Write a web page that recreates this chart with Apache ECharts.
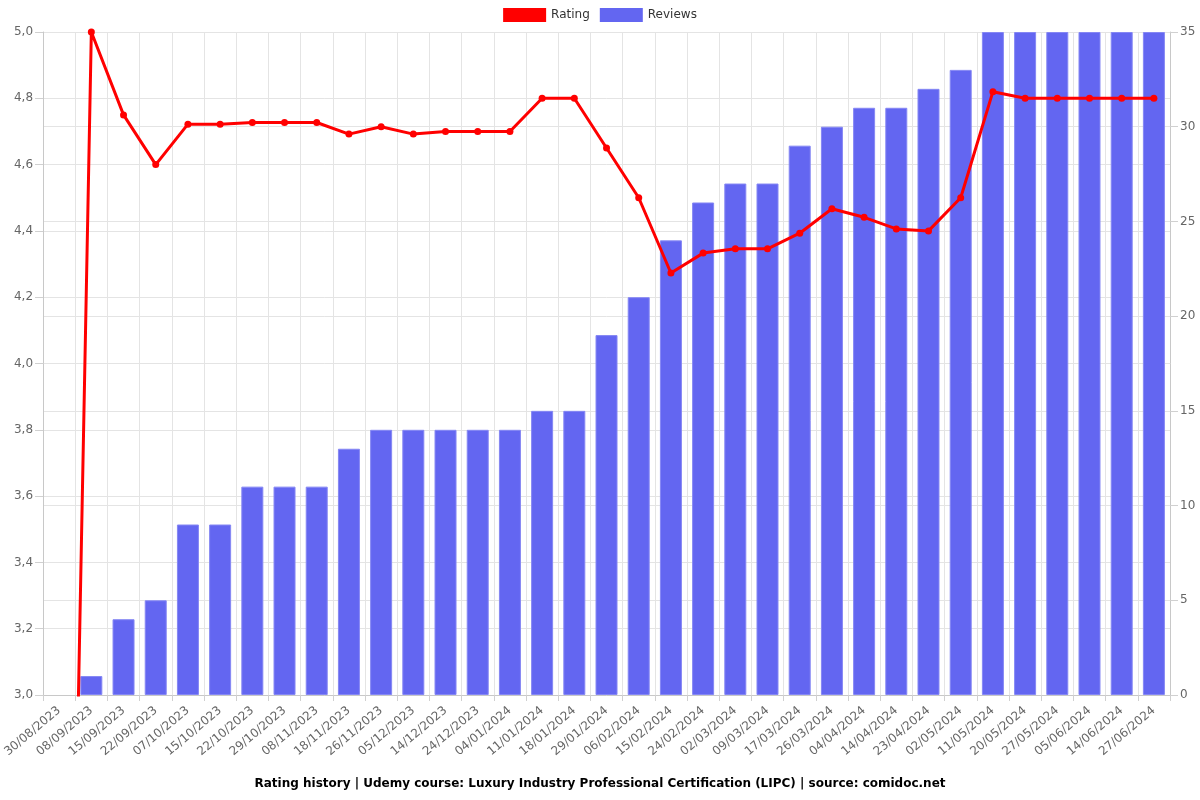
<!DOCTYPE html>
<html><head><meta charset="utf-8">
<script src="https://cdn.jsdelivr.net/npm/echarts@6/dist/echarts.min.js"></script>
<style>html,body{margin:0;padding:0;background:#fff}#c{width:1200px;height:800px}</style>
</head><body><div id="c"></div>
<script>
const categories = ['30/08/2023','08/09/2023','15/09/2023','22/09/2023','07/10/2023','15/10/2023','22/10/2023','29/10/2023','08/11/2023','18/11/2023','26/11/2023','05/12/2023','14/12/2023','24/12/2023','04/01/2024','11/01/2024','18/01/2024','29/01/2024','06/02/2024','15/02/2024','24/02/2024','02/03/2024','09/03/2024','17/03/2024','26/03/2024','04/04/2024','14/04/2024','23/04/2024','02/05/2024','11/05/2024','20/05/2024','27/05/2024','05/06/2024','14/06/2024','27/06/2024'];
const rating = [0, 5.0, 4.75, 4.6, 4.722, 4.722, 4.727, 4.727, 4.727, 4.692, 4.714, 4.692, 4.7, 4.7, 4.7, 4.8, 4.8, 4.65, 4.5, 4.273, 4.333, 4.346, 4.346, 4.393, 4.467, 4.441, 4.406, 4.4, 4.5, 4.82, 4.8, 4.8, 4.8, 4.8, 4.8];
const reviews = [0, 1, 4, 5, 9, 9, 11, 11, 11, 13, 14, 14, 14, 14, 14, 15, 15, 19, 21, 24, 26, 27, 27, 29, 30, 31, 31, 32, 33, 35, 35, 35, 35, 35, 35];
const titleText = 'Rating history | Udemy course: Luxury Industry Professional Certification (LIPC) | source: comidoc.net';

const font = 'DejaVu Sans';
const chart = echarts.init(document.getElementById('c'), null, {renderer: 'canvas'});
chart.setOption({
  animation: false,
  textStyle: {fontFamily: font},
  title: {text: titleText, left: 'center', bottom: 5,
    textStyle: {fontFamily: font, fontSize: 12, fontWeight: 'bold', color: '#000'}},
  legend: {top: 3, left: 'center', itemWidth: 43, itemHeight: 14, itemGap: 10,
    icon: 'rect', textStyle: {fontFamily: font, fontSize: 12, color: '#333'},
    itemStyle: {borderWidth: 0},
    data: ['Rating', 'Reviews']},
  grid: {left: 43, right: 30, top: 32, bottom: 105, containLabel: false},
  xAxis: {type: 'category', data: categories, boundaryGap: true,
    axisLine: {lineStyle: {color: '#c8c8c8'}},
    axisTick: {show: true, length: 6, lineStyle: {color: '#d0d0d0'}},
    splitLine: {show: true, lineStyle: {color: '#e4e4e4'}},
    axisLabel: {rotate: 40, fontFamily: font, fontSize: 12, color: '#666', margin: 14, interval: 0}},
  yAxis: [
    {type: 'value', min: 3, max: 5, interval: 0.2, position: 'left',
      axisLine: {show: true, lineStyle: {color: '#c8c8c8'}},
      axisTick: {show: true, length: 8, lineStyle: {color: '#d0d0d0'}},
      splitLine: {lineStyle: {color: '#e4e4e4'}},
      axisLabel: {fontFamily: font, fontSize: 12, color: '#666', margin: 10,
        formatter: v => v.toFixed(1).replace('.', ',')}},
    {type: 'value', min: 0, max: 35, interval: 5, position: 'right',
      axisLine: {show: true, lineStyle: {color: '#c8c8c8'}},
      axisTick: {show: true, length: 8, lineStyle: {color: '#d0d0d0'}},
      splitLine: {lineStyle: {color: '#e4e4e4'}},
      axisLabel: {fontFamily: font, fontSize: 12, color: '#666', margin: 10}}
  ],
  series: [
    {name: 'Rating', type: 'line', yAxisIndex: 0, data: rating, z: 5,
      clip: true, symbol: 'circle', symbolSize: 7, showAllSymbol: true,
      itemStyle: {color: '#ff0000'}, lineStyle: {color: '#ff0000', width: 3}},
    {name: 'Reviews', type: 'bar', yAxisIndex: 1, z: 2, barWidth: 22,
      data: reviews.map(v => v === 0 ? {value: v, itemStyle: {borderWidth: 0}} : v),
      itemStyle: {color: '#6366f1', borderColor: '#8587f4', borderWidth: 1}}
  ]
});
</script></body></html>
